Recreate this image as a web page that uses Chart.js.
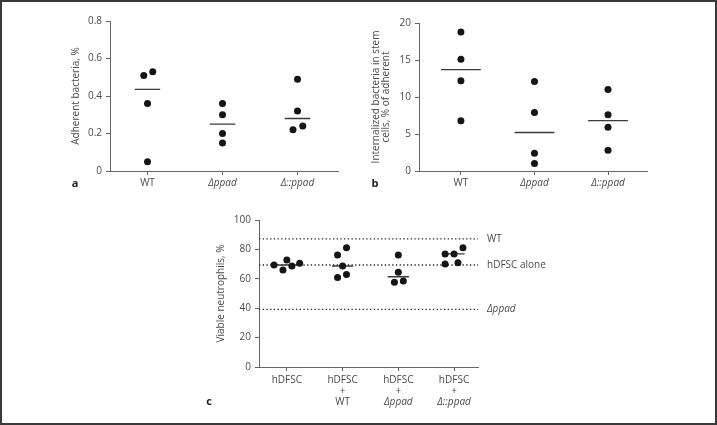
<!DOCTYPE html>
<html>
<head>
<meta charset="utf-8">
<script src="https://cdn.jsdelivr.net/npm/chart.js@4.4.1/dist/chart.umd.min.js"></script>
<style>
  body { margin: 0; background: #fff; }
  #wrap { position: relative; width: 717px; height: 425px; }
  canvas { position: absolute; }
  #frame { position: absolute; left: 0; top: 0; width: 717px; height: 425px; box-sizing: border-box; border: 2px solid #3a3a3a; pointer-events: none; }
</style>
</head>
<body>
<div id="wrap">
  <canvas id="chartA" width="360" height="200" style="left:0;top:0"></canvas>
  <canvas id="chartB" width="357" height="200" style="left:360px;top:0"></canvas>
  <canvas id="chartC" width="380" height="225" style="left:195px;top:200px"></canvas>
  <div id="frame"></div>
</div>
<script>
// --- datos ---
const catsAB = ['WT', 'Δppad', 'Δ::ppad'];

// a: bacterias adherentes (%)
const adherent = [[0.51, 0.53, 0.36, 0.05], [0.36, 0.30, 0.20, 0.15], [0.49, 0.32, 0.22, 0.24]];
const adherentJitter = [[-0.05, 0.07, 0, 0], [0, 0, 0, 0], [0, 0, -0.06, 0.07]];
const adherentMean = [0.435, 0.25, 0.28];
const adherentTicks = [0, 0.2, 0.4, 0.6, 0.8];

// b: bacterias internalizadas (% de adherentes)
const internalized = [[18.8, 15.1, 12.2, 6.8], [12.1, 7.9, 2.4, 1.0], [11.0, 7.6, 5.9, 2.8]];
const internalizedJitter = [[0, 0, 0, 0], [0, 0, 0, 0], [0, 0, 0, 0]];
const internalizedMean = [13.7, 5.2, 6.8];
const internalizedTicks = [0, 5, 10, 15, 20];

// c: neutrófilos viables (%)
const catsC = [['hDFSC'], ['hDFSC', '+', 'WT'], ['hDFSC', '+', 'Δppad'], ['hDFSC', '+', 'Δ::ppad']];
const viable = [[69.4, 66, 72.8, 68.7, 70.5], [76.2, 81.2, 68.7, 60.8, 63], [76.2, 64.4, 57.6, 58.5], [76.9, 76.9, 81.2, 70, 71]];
const viableJitter = [[-0.23, -0.07, 0, 0.09, 0.23], [-0.09, 0.07, 0, -0.09, 0.07], [0, 0, -0.07, 0.09], [-0.16, 0, 0.16, -0.16, 0.07]];
const viableMean = [69.4, 68.7, 61.4, 76.9];
const viableTicks = [0, 20, 40, 60, 80, 100];
const refValues = [87.1, 69.4, 39.2];
const refLabels = ['WT', 'hDFSC alone', 'Δppad'];

const FONT = '"Open Sans", "Noto Sans", sans-serif';
const TXT = '#4a4a4a';
const AXIS = '#666';

const makeDots = (vals, jit) => vals.flatMap((g, i) => g.map((v, j) => ({ x: i + jit[i][j], y: v })));
const makeMeans = (means, hw) => means.flatMap((m, i) => [{ x: i - hw, y: m }, { x: i + hw, y: m }, { x: i, y: null }]);
const isItalic = s => /ppad/.test(s);

// letra del panel (a, b, c)
const panelLetter = {
  id: 'panelLetter',
  afterDraw(chart, args, opts) {
    const c = chart.ctx;
    c.save();
    c.font = 'bold 11px ' + FONT;
    c.fillStyle = '#222';
    c.textAlign = 'center';
    c.textBaseline = 'middle';
    c.fillText(opts.text, opts.x, opts.y);
    c.restore();
  }
};

// etiquetas de categorías con cursiva por línea
const catLabels = {
  id: 'catLabels',
  afterDraw(chart, args, opts) {
    if (!opts.labels) return;
    const c = chart.ctx, xs = chart.scales.x, base = chart.chartArea.bottom;
    c.save();
    c.fillStyle = TXT;
    c.textAlign = 'center';
    c.textBaseline = 'middle';
    opts.labels.forEach((lines, i) => {
      const px = xs.getPixelForValue(i);
      lines.forEach((ln, k) => {
        c.font = (isItalic(ln) ? 'italic ' : '') + '10px ' + FONT;
        c.fillText(ln, px, base + 13 + k * 11);
      });
    });
    c.restore();
  }
};

// textos a la derecha de las líneas punteadas
const refText = {
  id: 'refText',
  afterDraw(chart, args, opts) {
    if (!opts.values) return;
    const c = chart.ctx, ys = chart.scales.y, x = chart.chartArea.right + 9;
    c.save();
    c.fillStyle = TXT;
    c.textAlign = 'left';
    c.textBaseline = 'middle';
    opts.values.forEach((v, i) => {
      c.font = (isItalic(opts.labels[i]) ? 'italic ' : '') + '10px ' + FONT;
      c.fillText(opts.labels[i], x, ys.getPixelForValue(v));
    });
    c.restore();
  }
};

function panel(id, cfg) {
  const datasets = [
    { data: makeDots(cfg.vals, cfg.jit), backgroundColor: '#151515', borderWidth: 0, pointRadius: 3.5, pointHoverRadius: 3.5 },
    { data: makeMeans(cfg.means, cfg.hw), showLine: true, spanGaps: false, borderColor: '#3a3a3a', borderWidth: 1.3, pointRadius: 0 }
  ];
  (cfg.refs || []).forEach(v => datasets.push({
    data: [{ x: cfg.xmin, y: v }, { x: cfg.xmax, y: v }],
    showLine: true, borderColor: '#222', borderWidth: 1.3, borderDash: [1.3, 2.4], pointRadius: 0
  }));
  return new Chart(document.getElementById(id), {
    type: 'scatter',
    data: { datasets },
    options: {
      responsive: false,
      animation: false,
      layout: { padding: cfg.pad },
      plugins: {
        legend: { display: false },
        tooltip: { enabled: false },
        panelLetter: cfg.letter,
        catLabels: { labels: cfg.catLines },
        refText: { values: cfg.refs, labels: cfg.refLabels }
      },
      scales: {
        x: {
          type: 'linear', min: cfg.xmin, max: cfg.xmax,
          afterBuildTicks: s => { s.ticks = cfg.cats.map((c, i) => ({ value: i })); },
          afterFit: s => { s.height = cfg.xh; },
          grid: { drawOnChartArea: false, drawTicks: true, tickLength: 4, color: AXIS },
          border: { color: AXIS, width: 1 },
          ticks: {
            display: !cfg.catLines,
            padding: 2,
            color: TXT,
            callback: v => cfg.cats[v],
            font: ctx => ({ family: FONT, size: 10, style: isItalic(cfg.cats[ctx.index] || '') ? 'italic' : 'normal' })
          }
        },
        y: {
          min: cfg.yTicks[0], max: cfg.yTicks[cfg.yTicks.length - 1],
          afterBuildTicks: s => { s.ticks = cfg.yTicks.map(v => ({ value: v })); },
          afterFit: s => { s.width = cfg.yw; },
          grid: { drawOnChartArea: false, drawTicks: true, tickLength: 4, color: AXIS },
          border: { color: AXIS, width: 1 },
          ticks: { padding: 4, color: TXT, font: { family: FONT, size: 10 } },
          title: { display: true, text: cfg.title, color: TXT, padding: 0, font: { family: FONT, size: 10, lineHeight: 1.0 } }
        }
      }
    },
    plugins: [panelLetter, catLabels, refText]
  });
}

panel('chartA', {
  cats: catsAB, vals: adherent, jit: adherentJitter, means: adherentMean, hw: 0.17,
  yTicks: adherentTicks, xmin: -0.5, xmax: 2.54, title: 'Adherent bacteria, %',
  pad: { left: 71, top: 21, right: 22, bottom: 5 }, yw: 39, xh: 24,
  letter: { text: 'a', x: 75, y: 184 }
});

panel('chartB', {
  cats: catsAB, vals: internalized, jit: internalizedJitter, means: internalizedMean, hw: 0.27,
  yTicks: internalizedTicks, xmin: -0.57, xmax: 2.53,
  title: ['Internalized bacteria in stem', 'cells, % of adherent'],
  pad: { left: 11, top: 23, right: 70, bottom: 5 }, yw: 48, xh: 24,
  letter: { text: 'b', x: 15, y: 184 }
});

panel('chartC', {
  cats: catsC.map(l => l[0]), catLines: catsC, vals: viable, jit: viableJitter, means: viableMean, hw: 0.19,
  yTicks: viableTicks, xmin: -0.5, xmax: 3.43, title: 'Viable neutrophils, %',
  refs: refValues, refLabels: refLabels,
  pad: { left: 21, top: 20, right: 97, bottom: 18 }, yw: 43, xh: 40,
  letter: { text: 'c', x: 14, y: 202 }
});
</script>
</body>
</html>
